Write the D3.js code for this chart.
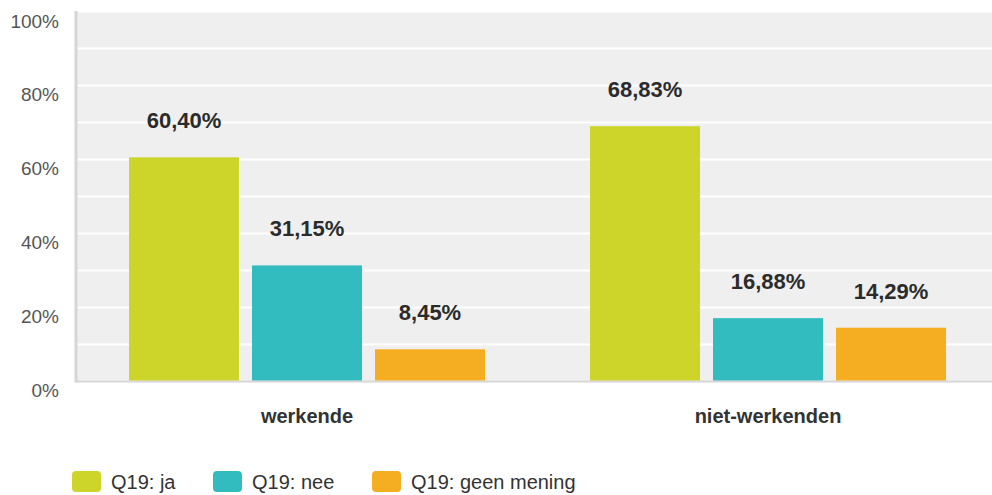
<!DOCTYPE html>
<html>
<head>
<meta charset="utf-8">
<script src="https://cdn.jsdelivr.net/npm/d3@7"></script>
<style>
  body { margin: 0; background: #fff; }
  svg { display: block; font-family: "Liberation Sans", Arial, sans-serif; }
</style>
</head>
<body>
<svg id="chart" width="992" height="495"></svg>
<script>
// data
const categories = ['werkende', 'niet-werkenden'];
const seriesNames = ['Q19: ja', 'Q19: nee', 'Q19: geen mening'];
const seriesColors = ['#cdd42a', '#33bcbf', '#f5ae21'];
const valJa = [60.40, 68.83];
const valNee = [31.15, 16.88];
const valGeen = [8.45, 14.29];
const yTicks = [0, 20, 40, 60, 80, 100];
const yGrid = [10, 20, 30, 40, 50, 60, 70, 80, 90, 100];

const seriesValues = [valJa, valNee, valGeen];

const svg = d3.select('#chart');
const plotLeft = 76.5, plotRight = 998.5, plotTop = 11, plotBottom = 380.5;

// the plot runs a bit past the right edge of the window
const x = d3.scaleBand().domain(categories).range([plotLeft, plotRight]).paddingInner(0).paddingOuter(0);
const xs = d3.scaleBand().domain(seriesNames).range([0, x.bandwidth()]).paddingInner(13 / 123).paddingOuter(52.5 / 123);
const y = d3.scaleLinear().domain([0, 100]).range([plotBottom, plotTop]);

// background
svg.append('rect')
  .attr('x', plotLeft).attr('y', plotTop)
  .attr('width', plotRight - plotLeft).attr('height', plotBottom - plotTop)
  .attr('fill', '#efefef');

// gridlines
svg.append('g').selectAll('line')
  .data(yGrid)
  .enter()
  .append('line')
  .attr('x1', plotLeft).attr('x2', plotRight)
  .attr('y1', d => Math.round(y(d)) + 0.5)
  .attr('y2', d => Math.round(y(d)) + 0.5)
  .attr('stroke', '#fff')
  .attr('stroke-width', 2);

// y axis labels
const yAxis = d3.axisLeft(y).tickValues(yTicks).tickFormat(d => d + '%').tickSize(0).tickPadding(0);
const ya = svg.append('g').attr('transform', 'translate(59,10)').call(yAxis);
ya.select('.domain').remove();
ya.selectAll('text')
  .attr('font-size', 19)
  .attr('fill', '#555')
  .attr('font-family', '"Liberation Sans", Arial, sans-serif');

// axis lines
svg.append('line')
  .attr('x1', 76).attr('x2', 76).attr('y1', plotTop).attr('y2', plotBottom + 2)
  .attr('stroke', '#d6d6d6').attr('stroke-width', 3);
svg.append('line')
  .attr('x1', 76).attr('x2', plotRight).attr('y1', plotBottom + 1).attr('y2', plotBottom + 1)
  .attr('stroke', '#d6d6d6').attr('stroke-width', 2);

// bars
const groups = svg.append('g').selectAll('g')
  .data(categories)
  .enter()
  .append('g')
  .attr('transform', d => `translate(${x(d)},0)`);

groups.each(function (cat, ci) {
  const g = d3.select(this);
  seriesNames.forEach((s, si) => {
    const v = seriesValues[si][ci];
    g.append('rect')
      .attr('x', xs(s))
      .attr('y', y(v))
      .attr('width', xs.bandwidth())
      .attr('height', y(0) - y(v))
      .attr('fill', seriesColors[si]);
    g.append('text')
      .attr('x', xs(s) + xs.bandwidth() / 2)
      .attr('y', y(v) - 29)
      .attr('text-anchor', 'middle')
      .attr('font-size', 22)
      .attr('font-weight', 'bold')
      .attr('fill', '#2b2b2b')
      .text(v.toFixed(2).replace('.', ',') + '%');
  });
});

// category labels
const xAxis = d3.axisBottom(x).tickSize(0).tickPadding(0);
const xa = svg.append('g').attr('transform', 'translate(0,423)').call(xAxis);
xa.select('.domain').remove();
xa.selectAll('text')
  .attr('dy', 0)
  .attr('font-size', 20)
  .attr('font-weight', 'bold')
  .attr('fill', '#333')
  .attr('font-family', '"Liberation Sans", Arial, sans-serif');

// legend
const legendX = [72, 213, 372];
const legend = svg.append('g').selectAll('g')
  .data(seriesNames)
  .enter()
  .append('g')
  .attr('transform', (d, i) => `translate(${legendX[i]},471)`);
legend.append('rect')
  .attr('width', 29).attr('height', 21).attr('rx', 4)
  .attr('fill', (d, i) => seriesColors[i]);
legend.append('text')
  .attr('x', 39).attr('y', 18)
  .attr('font-size', 20)
  .attr('fill', '#333')
  .text(d => d);
</script>
</body>
</html>
